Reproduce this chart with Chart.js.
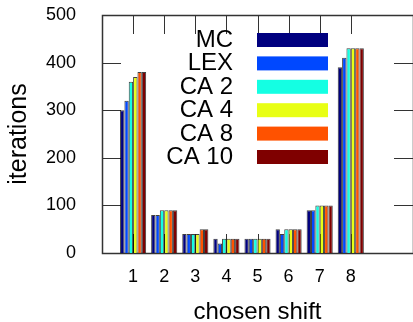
<!DOCTYPE html>
<html>
<head>
<meta charset="utf-8">
<script src="https://cdn.jsdelivr.net/npm/chart.js@4"></script>
<style>
  html, body { margin: 0; padding: 0; background: #fff; }
  #wrap { width: 413px; height: 322px; }
</style>
</head>
<body>
<div id="wrap"><canvas id="chart" width="413" height="322"></canvas></div>
<script>
// chosen shift categories
const shifts = [1, 2, 3, 4, 5, 6, 7, 8];
const seriesNames = ['MC', 'LEX', 'CA 2', 'CA 4', 'CA 8', 'CA 10'];
const seriesColors = ['#00007f', '#0048ff', '#14ffe3', '#e8ff14', '#ff5200', '#7f0000'];

// iterations per series
const mc   = [300, 80, 40, 30, 30, 50, 90, 390];
const lex  = [320, 80, 40, 20, 30, 40, 90, 410];
const ca2  = [360, 90, 40, 30, 30, 50, 100, 430];
const ca4  = [370, 90, 40, 30, 30, 50, 100, 430];
const ca8  = [380, 90, 50, 30, 30, 50, 100, 430];
const ca10 = [380, 90, 50, 30, 30, 50, 100, 430];
const allSeries = [mc, lex, ca2, ca4, ca8, ca10];

const yTicks = [0, 100, 200, 300, 400, 500];

const FONT = "'Liberation Sans', Arial, sans-serif";

// frame + inward tick marks on all four sides
const framePlugin = {
    id: 'frame',
    beforeDatasetsDraw(chart) {
        const { ctx, chartArea: a, scales } = chart;
        const len = 19;
        ctx.save();
        ctx.strokeStyle = '#333';
        ctx.lineWidth = 1;
        yTicks.forEach(v => {
            const y = Math.round(scales.y.getPixelForValue(v)) + 0.5;
            ctx.beginPath();
            ctx.moveTo(a.left, y); ctx.lineTo(a.left + len, y);
            ctx.moveTo(a.right, y); ctx.lineTo(a.right - len, y);
            ctx.stroke();
        });
        shifts.forEach(s => {
            const x = Math.round(scales.x.getPixelForValue(s)) + 0.5;
            ctx.beginPath();
            ctx.moveTo(x, a.top); ctx.lineTo(x, a.top + len);
            ctx.moveTo(x, a.bottom); ctx.lineTo(x, a.bottom - len);
            ctx.stroke();
        });
        ctx.lineWidth = 1.5;
        ctx.strokeRect(Math.round(a.left) + 0.5, Math.round(a.top) + 0.5,
            Math.round(a.right - a.left), Math.round(a.bottom - a.top));
        ctx.restore();
    },
    afterDraw(chart) {
        // legend inside plot: right aligned text, swatch to the right
        const { ctx } = chart;
        ctx.save();
        ctx.font = '24px ' + FONT;
        ctx.textAlign = 'right';
        ctx.textBaseline = 'alphabetic';
        chart.data.datasets.forEach((ds, i) => {
            const base = 47 + i * 23.4;
            ctx.fillStyle = '#000';
            ctx.fillText(ds.label, 233, base);
            ctx.fillStyle = ds.backgroundColor;
            ctx.fillRect(257, base - 14, 71, 14);
        });
        ctx.restore();
    }
};

new Chart(document.getElementById('chart'), {
    type: 'bar',
    data: {
        datasets: seriesNames.map((name, i) => ({
            label: name,
            data: shifts.map((s, j) => ({ x: s, y: allSeries[i][j] })),
            backgroundColor: seriesColors[i],
            borderColor: 'rgba(0,0,0,0.75)',
            borderWidth: 1,
            barPercentage: 1.0,
            categoryPercentage: 0.84
        }))
    },
    options: {
        responsive: false,
        animation: false,
        layout: { padding: { top: 15, right: 0, left: 0, bottom: 0 } },
        plugins: { legend: { display: false }, tooltip: { enabled: false } },
        scales: {
            x: {
                type: 'linear',
                min: 0,
                max: 10,
                offset: false,
                grid: { display: false, drawTicks: false },
                border: { display: false },
                ticks: {
                    stepSize: 1,
                    autoSkip: false,
                    maxRotation: 0,
                    padding: 13,
                    color: '#000',
                    font: { family: FONT, size: 18 },
                    callback: v => shifts.includes(v) ? String(v) : ''
                },
                title: {
                    display: true,
                    text: 'chosen shift',
                    color: '#000',
                    font: { family: FONT, size: 24, lineHeight: 0.8 },
                    padding: { top: 0, bottom: 0 }
                },
                afterFit: s => {
                    s.height = 69;
                    s.paddingLeft = 0; s.paddingRight = 0;
                }
            },
            y: {
                min: 0,
                max: 500,
                grid: { display: false, drawTicks: false },
                border: { display: false },
                ticks: {
                    stepSize: 100,
                    padding: 26,
                    color: '#000',
                    font: { family: FONT, size: 18 }
                },
                title: {
                    display: true,
                    text: 'iterations',
                    color: '#000',
                    font: { family: FONT, size: 25, lineHeight: 1 },
                    padding: { top: 7, bottom: 0 }
                },
                afterFit: s => {
                    s.width = 102;
                    s.paddingTop = 0; s.paddingBottom = 0;
                }
            }
        }
    },
    plugins: [framePlugin]
});
</script>
</body>
</html>
